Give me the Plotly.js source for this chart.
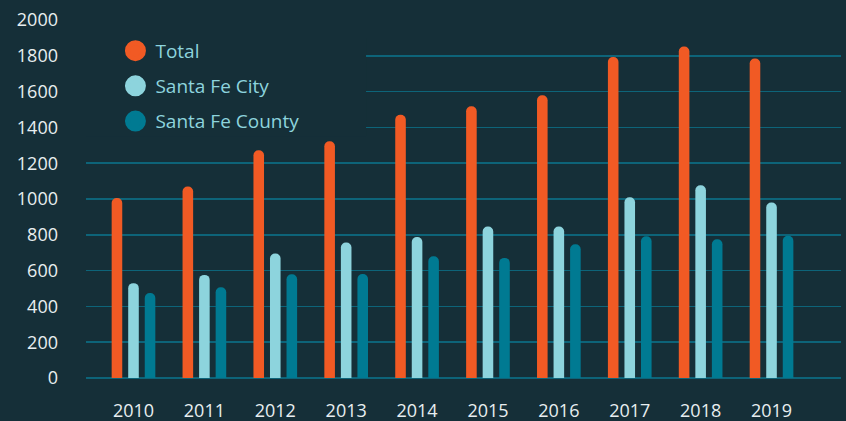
<!DOCTYPE html>
<html>
<head>
<meta charset="utf-8">
<script src="https://cdn.plot.ly/plotly-3.0.1.min.js"></script>
<style>html,body{margin:0;padding:0;background:#152f38;}</style>
</head>
<body>
<div id="chart" style="width:846px;height:421px;"></div>
<script>
const years = ["2010","2011","2012","2013","2014","2015","2016","2017","2018","2019"];
const total = [1005, 1070, 1272, 1323, 1470, 1518, 1580, 1793, 1852, 1785];
const santaFeCity = [530, 576, 695, 757, 788, 846, 846, 1010, 1077, 980];
const santaFeCounty = [475, 507, 580, 581, 680, 671, 747, 792, 775, 794];
const seriesNames = ["Total", "Santa Fe City", "Santa Fe County"];
const seriesColors = ["#f15a24", "#8dd4dd", "#007a92"];
const yTicks = [0, 200, 400, 600, 800, 1000, 1200, 1400, 1600, 1800, 2000];

const seriesData = [total, santaFeCity, santaFeCounty];
const traces = [];
seriesData.forEach((vals, i) => {
  traces.push({
    type: "bar", x: years, y: vals, name: seriesNames[i],
    marker: {color: seriesColors[i], cornerradius: "50%"},
    showlegend: false, legendgroup: "g" + i, hoverinfo: "x+y"
  });
});
seriesNames.forEach((n, i) => {
  traces.push({
    type: "scatter", mode: "markers", x: [null], y: [null], name: n,
    legendgroup: "g" + i, showlegend: true,
    marker: {color: seriesColors[i], size: 16, symbol: "circle", line: {color: seriesColors[i], width: 5}}
  });
});

const font = "'Open Sans', 'DejaVu Sans', sans-serif";
const layout = {
  width: 846, height: 421,
  paper_bgcolor: "#152f38", plot_bgcolor: "#152f38",
  margin: {l: 86, r: 5, t: 20, b: 43, pad: 0},
  barmode: "group", bargap: 0.3, bargroupgap: 0.36,
  font: {family: font, color: "#e8eef0", size: 18},
  xaxis: {
    type: "category", range: [-0.67, 9.98], showgrid: false, zeroline: false,
    showline: false, ticks: "", ticklabelstandoff: 20,
    tickfont: {family: font, size: 18, color: "#e8eef0"}
  },
  yaxis: {
    range: [0, 2000], tickvals: yTicks, showgrid: true, gridcolor: "#0d6479", gridwidth: 1.5,
    zeroline: true, zerolinecolor: "#0d6479", zerolinewidth: 1.5, showline: false, ticks: "",
    ticklabelstandoff: 27, tickfont: {family: font, size: 18, color: "#e8eef0"}
  },
  shapes: [{
    type: "rect", xref: "x", yref: "y", x0: -0.7, x1: 3.28, y0: 1350, y1: 1900,
    fillcolor: "#152f38", line: {width: 0}, layer: "between"
  }],
  legend: {
    x: 0.039, y: 0.967, xanchor: "left", yanchor: "top",
    bgcolor: "rgba(0,0,0,0)", borderwidth: 0,
    traceorder: "grouped", tracegroupgap: 7.5,
    font: {family: font, size: 19, color: "#8dd4dd"}
  },
  showlegend: true
};

Plotly.newPlot("chart", traces, layout, {displayModeBar: false, staticPlot: true});
</script>
</body>
</html>
